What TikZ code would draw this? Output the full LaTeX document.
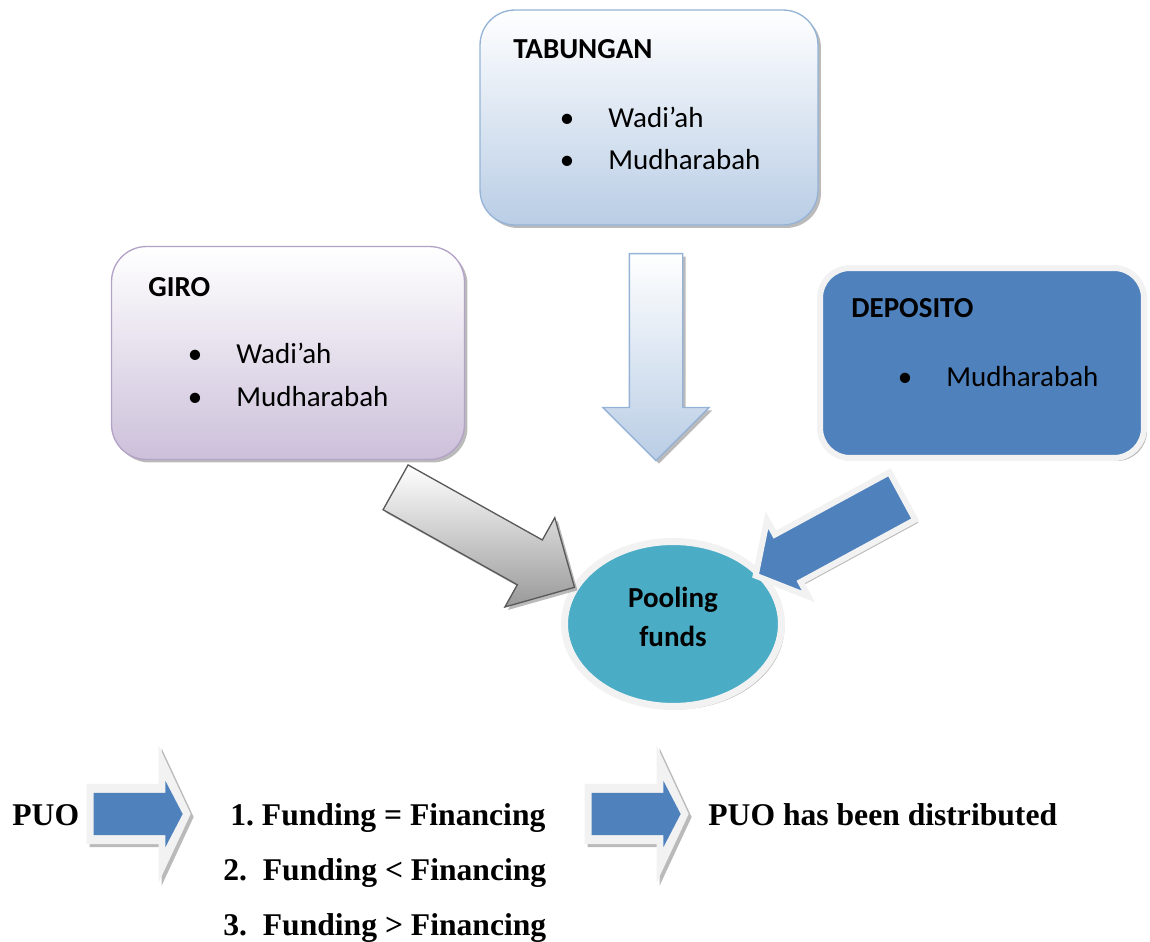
\documentclass[tikz,border=0pt]{standalone}
\usepackage{fontspec}
\setmainfont{Liberation Serif}
\newfontfamily\boxfont{Carlito}
\usetikzlibrary{shadows}
\usetikzlibrary{arrows,shapes}
\usetikzlibrary{shapes.arrows,shapes.geometric}
\usetikzlibrary{calc}
\definecolor{tabline}{RGB}{149,179,215}
\definecolor{tabfill}{RGB}{185,205,229}
\definecolor{giroline}{RGB}{179,162,199}
\definecolor{girofill}{RGB}{204,192,218}
\definecolor{depblue}{RGB}{79,129,189}
\definecolor{glow}{RGB}{242,242,242}
\definecolor{poolfill}{RGB}{75,172,198}
\definecolor{arrowline}{RGB}{89,89,89}
\tikzstyle{softshadow}=[drop shadow={shadow xshift=0.06cm,shadow yshift=-0.06cm,fill=black!45,opacity=0.6}]
\tikzstyle{box}=[rectangle,rounded corners=0.7cm,inner sep=0pt,line width=0.75pt,softshadow]
\tikzstyle{blockarrow}=[single arrow,inner xsep=0pt,line width=0.75pt,anchor=tail]
\tikzstyle{boxtext}=[anchor=base west,inner sep=0pt,font=\boxfont\fontsize{16.5}{20}\selectfont]
\tikzstyle{boxtitle}=[boxtext,font=\boxfont\bfseries\fontsize{16.5}{20}\selectfont]
\tikzstyle{puotext}=[anchor=base west,inner sep=0pt,font=\bfseries\fontsize{18}{22}\selectfont]

\begin{document}
\begin{tikzpicture}[x=0.02cm,y=-0.02cm]
   \useasboundingbox (0,0) rectangle (1150,942);

   % the three kinds of funds
   \node[box,draw=tabline,top color=white,bottom color=tabfill,minimum width=6.76cm,minimum height=4.3cm] (tabungan) at (649,117.5) {};
   \node[box,draw=giroline,top color=white,bottom color=girofill,minimum width=7.06cm,minimum height=4.26cm] (giro) at (288,353) {};
   \node[box,draw=glow,fill=depblue,line width=0.12cm,rounded corners=0.6cm,minimum width=6.48cm,minimum height=3.8cm] (deposito) at (982,363) {};

   \node[ellipse,draw=glow,fill=poolfill,line width=0.14cm,inner sep=0pt,minimum width=4.34cm,minimum height=3.3cm,softshadow] (pool) at (673,624) {};

   \node[blockarrow,draw=tabline,top color=white,bottom color=tabfill,rotate=-90,minimum height=4.14cm,inner ysep=0.52cm,minimum width=2.1cm,single arrow head extend=0.53cm,softshadow] (tabarrow) at (656,253) {};
   \node[blockarrow,draw=arrowline,top color=white,bottom color=black!40,rotate=-29.2,minimum height=4.1cm,inner ysep=0.5cm,minimum width=2.02cm,single arrow head extend=0.51cm,softshadow] (giroarrow) at (395,487) {};
   \node[blockarrow,draw=glow,fill=depblue,line width=0.12cm,rotate=208.5,minimum height=3.34cm,inner ysep=0.48cm,minimum width=1.62cm,single arrow head extend=0.33cm,single arrow tip angle=100,softshadow] (deparrow) at (905,494.6) {};

   \node[boxtitle] (tabtitle) at (513,59) {TABUNGAN};
   \node[boxtitle] (girotitle) at (148,297) {GIRO};
   \node[boxtitle] (deptitle) at (851,318) {DEPOSITO};

   \foreach \x / \y / \name / \label in {567/128/tab1/Wadi’ah, 567/170/tab2/Mudharabah, 195/364/giro1/Wadi’ah, 195/407/giro2/Mudharabah, 905/387/dep1/Mudharabah}
   {
      \node[boxtext,anchor=base] (\name dot) at (\x,\y) {•};
      \node[boxtext] (\name) at (\x+41,\y) {\label};
   }

   \node[align=center,font=\boxfont\bfseries\fontsize{16.5}{22}\selectfont] (pooltext) at (673,617) {Pooling\\funds};

   % distribution of PUO
   \foreach \x / \name in {86/puoarrow, 584/donearrow}
   {
      \node[blockarrow,fill=glow,minimum height=2.08cm,inner ysep=0.59cm,minimum width=2.72cm,single arrow head extend=0.77cm,single arrow tip angle=130,softshadow] (\name) at (\x,814) {};
      \node[blockarrow,fill=depblue,minimum height=1.78cm,inner ysep=0.41cm,minimum width=1.3cm,single arrow head extend=0.24cm,single arrow tip angle=125] (in\name) at (\x+7,814) {};
   }

   \node[puotext] (puo) at (12,825) {PUO};
   \node[puotext] (case1) at (230,825) {1.\ Funding = Financing};
   \node[puotext] (case2) at (223,880) {2.\ \ Funding < Financing};
   \node[puotext] (case3) at (223,935) {3.\ \ Funding > Financing};
   \node[puotext] (done) at (708,825) {PUO has been distributed};
\end{tikzpicture}
\end{document}
